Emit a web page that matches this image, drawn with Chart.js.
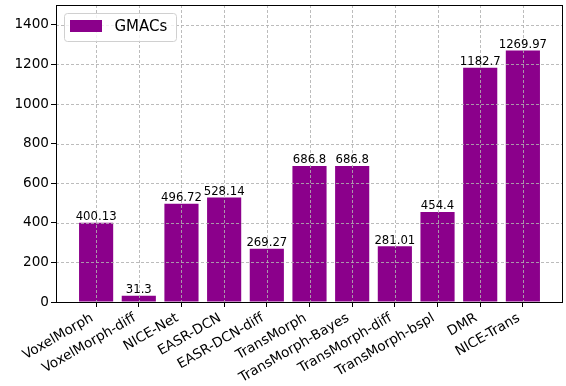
<!DOCTYPE html>
<html>
<head>
<meta charset="utf-8">
<script src="https://cdn.jsdelivr.net/npm/chart.js@4"></script>
<style>
  body { margin: 0; background: #fff; }
  #wrap { width: 566px; height: 386px; position: relative; }
</style>
</head>
<body>
<div id="wrap"><canvas id="gmacChart"></canvas></div>
<script>
// models and their GMACs
const models = ["VoxelMorph", "VoxelMorph-diff", "NICE-Net", "EASR-DCN", "EASR-DCN-diff",
  "TransMorph", "TransMorph-Bayes", "TransMorph-diff", "TransMorph-bspl", "DMR", "NICE-Trans"];
const gmacs = [400.13, 31.3, 496.72, 528.14, 269.27, 686.8, 686.8, 281.01, 454.4, 1182.7, 1269.97];
const yTicks = [0, 200, 400, 600, 800, 1000, 1200, 1400];
const seriesName = "GMACs";

const barColor = "#8b008b";
const font = "DejaVu Sans";
const gridColor = "rgba(176,176,176,0.85)";

Chart.defaults.font.family = font;
Chart.defaults.color = "#000";

// dashed grid on top of the bars, then the value text
const gridAndValues = {
  id: "gridAndValues",
  afterDatasetsDraw(chart) {
    const { ctx, chartArea: a, scales } = chart;
    ctx.save();
    ctx.strokeStyle = gridColor;
    ctx.lineWidth = 1;
    ctx.setLineDash([3, 2]);
    ctx.beginPath();
    scales.x.ticks.forEach(t => {
      const px = Math.round(scales.x.getPixelForValue(t.value)) + 0.5;
      ctx.moveTo(px, a.top);
      ctx.lineTo(px, a.bottom);
    });
    scales.y.ticks.forEach(t => {
      const py = Math.round(scales.y.getPixelForValue(t.value)) + 0.5;
      ctx.moveTo(a.left, py);
      ctx.lineTo(a.right, py);
    });
    ctx.stroke();
    ctx.setLineDash([]);

    const meta = chart.getDatasetMeta(0);
    ctx.font = "11.7px '" + font + "'";
    ctx.fillStyle = "#000";
    ctx.textAlign = "center";
    ctx.textBaseline = "bottom";
    meta.data.forEach((bar, i) => {
      ctx.fillText(String(gmacs[i]), bar.x, bar.y);
    });
    ctx.restore();
  }
};

// box around the plot + legend in the upper left corner
const frameAndLegend = {
  id: "frameAndLegend",
  afterDraw(chart) {
    const { ctx, chartArea: a } = chart;
    ctx.save();
    ctx.strokeStyle = "#000";
    ctx.lineWidth = 1;
    ctx.strokeRect(Math.round(a.left) + 0.5, Math.round(a.top) + 0.5,
      Math.round(a.right - a.left) - 1, Math.round(a.bottom - a.top));

    const lx = a.left + 8.5, ly = a.top + 8.5, lw = 112, lh = 28;
    ctx.beginPath();
    ctx.roundRect(lx, ly, lw, lh, 3);
    ctx.fillStyle = "rgba(255,255,255,0.8)";
    ctx.fill();
    ctx.strokeStyle = "#d0d0d0";
    ctx.stroke();

    ctx.fillStyle = barColor;
    ctx.fillRect(lx + 5.5, ly + 6.5, 32, 12);
    ctx.fillStyle = "#000";
    ctx.font = "15px '" + font + "'";
    ctx.textAlign = "left";
    ctx.textBaseline = "middle";
    ctx.fillText(chart.data.datasets[0].label, lx + 50, ly + 14);
    ctx.restore();
  }
};

new Chart(document.getElementById("gmacChart"), {
  type: "bar",
  data: {
    datasets: [{
      label: seriesName,
      data: gmacs.map((v, i) => ({ x: i, y: v })),
      backgroundColor: barColor,
      borderWidth: 0,
      categoryPercentage: 1,
      barPercentage: 0.8
    }]
  },
  options: {
    responsive: true,
    maintainAspectRatio: false,
    animation: false,
    layout: { padding: { top: 5, right: 3, left: 0, bottom: 0 } },
    plugins: {
      legend: { display: false },
      tooltip: { enabled: false }
    },
    scales: {
      x: {
        type: "linear",
        min: -0.94,
        max: models.length - 1 + 0.94,
        offset: false,
        afterBuildTicks: s => { s.ticks = models.map((_, i) => ({ value: i })); },
        afterFit: s => {
          s.height = 84;
          s.paddingLeft = 0;
          s.paddingRight = 0;
        },
        grid: {
          offset: false,
          drawOnChartArea: false,
          tickColor: "#000",
          tickLength: 5
        },
        border: { display: false },
        ticks: {
          autoSkip: false,
          minRotation: 30,
          maxRotation: 30,
          padding: 3,
          labelOffset: -4,
          color: "#000",
          font: { family: font, size: 13.6 },
          callback: v => models[v]
        }
      },
      y: {
        min: 0,
        max: 1500,
        afterBuildTicks: s => { s.ticks = yTicks.map(v => ({ value: v })); },
        afterFit: s => {
          s.width = 56;
          s.paddingTop = 0;
          s.paddingBottom = 0;
        },
        grid: {
          drawOnChartArea: false,
          tickColor: "#000",
          tickLength: 5
        },
        border: { display: false },
        ticks: {
          padding: 2,
          color: "#000",
          font: { family: font, size: 13.6 },
          callback: v => String(v)
        }
      }
    }
  },
  plugins: [gridAndValues, frameAndLegend]
});
</script>
</body>
</html>
